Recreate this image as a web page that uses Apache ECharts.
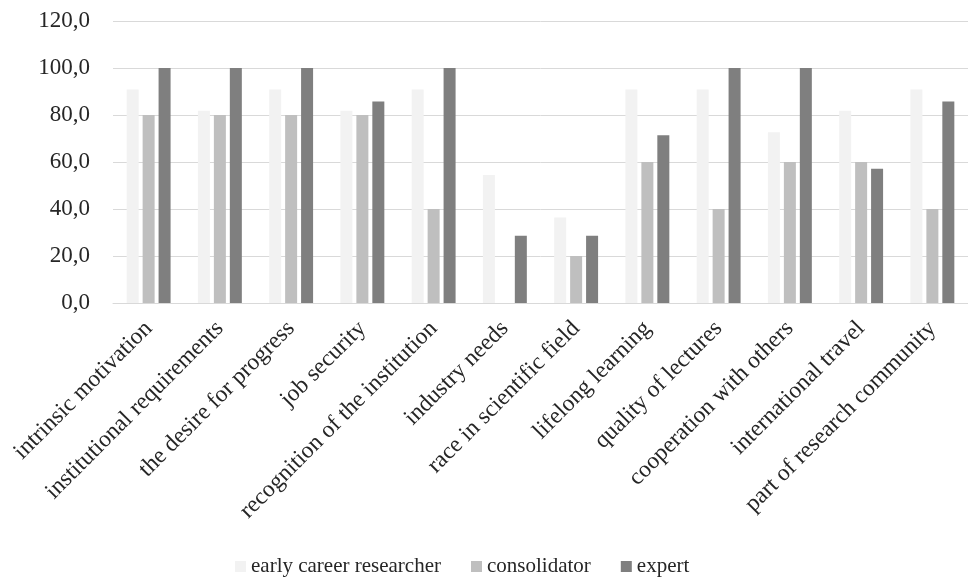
<!DOCTYPE html>
<html>
<head>
<meta charset="utf-8">
<script src="https://cdn.jsdelivr.net/npm/echarts@6/dist/echarts.min.js"></script>
<style>html,body{margin:0;padding:0;background:#fff;}#c{width:968px;height:583px;}</style>
</head>
<body>
<div id="c"></div>
<script>
const categories = ["intrinsic motivation","institutional requirements","the desire for progress","job security","recognition of the institution","industry needs","race in scientific field","lifelong learning","quality of lectures","cooperation with others","international travel","part of research community"];
const earlyCareer = [90.9, 81.8, 90.9, 81.8, 90.9, 54.5, 36.4, 90.9, 90.9, 72.7, 81.8, 90.9];
const consolidator = [80, 80, 80, 80, 40, 0, 20, 60, 40, 60, 60, 40];
const expert = [100, 100, 100, 85.7, 100, 28.6, 28.6, 71.4, 100, 100, 57.1, 85.7];
const yTicks = [0, 20, 40, 60, 80, 100, 120];
const seriesNames = ["early career researcher", "consolidator", "expert"];

const font = "'Liberation Serif', 'DejaVu Serif', serif";
const chart = echarts.init(document.getElementById('c'));
chart.setOption({
  animation: false,
  backgroundColor: '#fff',
  color: ['#f2f2f2', '#bfbfbf', '#7f7f7f'],
  grid: { left: 113, right: -9, top: 21, bottom: 280, containLabel: false },
  legend: {
    bottom: 1, left: 230,
    itemWidth: 11, itemHeight: 11, itemGap: 30,
    icon: 'rect',
    textStyle: { fontFamily: font, fontSize: 21, color: '#262626' },
    data: seriesNames
  },
  xAxis: {
    type: 'category',
    data: categories,
    axisLine: { show: true, lineStyle: { color: '#d9d9d9' } },
    axisTick: { show: false },
    axisLabel: { rotate: 45, interval: 0, margin: 22, fontFamily: font, fontSize: 23.5, color: '#262626' }
  },
  yAxis: {
    type: 'value', min: yTicks[0], max: yTicks[yTicks.length - 1], interval: 20,
    axisLine: { show: false }, axisTick: { show: false },
    splitLine: { lineStyle: { color: '#d9d9d9' } },
    axisLabel: { margin: 23, fontFamily: font, fontSize: 23, color: '#262626',
      formatter: v => v.toFixed(1).replace('.', ',') }
  },
  series: [
    { name: seriesNames[0], type: 'bar', data: earlyCareer, barWidth: 12, barGap: '33%' },
    { name: seriesNames[1], type: 'bar', data: consolidator, barWidth: 12, barGap: '33%' },
    { name: seriesNames[2], type: 'bar', data: expert, barWidth: 12, barGap: '33%' }
  ]
});
</script>
</body>
</html>
